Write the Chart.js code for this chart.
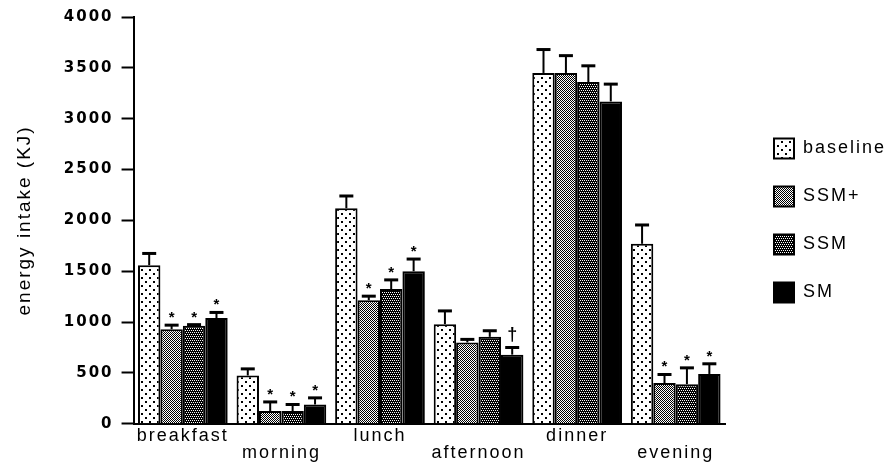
<!DOCTYPE html>
<html>
<head>
<meta charset="utf-8">
<script src="https://cdn.jsdelivr.net/npm/chart.js@4/dist/chart.umd.min.js"></script>
<style>
    html, body { margin: 0; padding: 0; background: #fff; }
    #wrap { width: 886px; height: 466px; }
</style>
</head>
<body>
<div id="wrap"><canvas id="graphEnergy" width="886" height="466"></canvas></div>
<script>
// meals, every other label pushed to a second line like in the figure
var categories = [['breakfast'], ['', 'morning'], ['lunch'], ['', 'afternoon'], ['dinner'], ['', 'evening']];
var seriesNames = ['baseline', 'SSM+', 'SSM', 'SM'];

// mean energy intake (KJ)
var baseline = [1560, 475, 2120, 980, 3450, 1770];
var ssmPlus  = [930, 125, 1215, 800, 3450, 400];
var ssm      = [965, 125, 1325, 855, 3360, 390];
var sm       = [1040, 190, 1500, 680, 3170, 490];

// SEM (upper bar only)
var baselineErr = [115, 65, 120, 130, 230, 185];
var ssmPlusErr  = [40, 90, 40, 30, 170, 85];
var ssmErr      = [10, 65, 90, 60, 160, 160];
var smErr       = [55, 65, 120, 70, 170, 100];

// significance marks
var baselineSig = ['', '', '', '', '', ''];
var ssmPlusSig  = ['*', '*', '*', '', '', '*'];
var ssmSig      = ['*', '*', '*', '', '', '*'];
var smSig       = ['*', '*', '*', '\u2020', '', '*'];

var yTicks = [0, 500, 1000, 1500, 2000, 2500, 3000, 3500, 4000];

var canvas = document.getElementById('graphEnergy');
var ctx = canvas.getContext('2d');

function makePattern(w, h, draw) {
    var c = document.createElement('canvas');
    c.width = w; c.height = h;
    var p = c.getContext('2d');
    p.fillStyle = '#fff';
    p.fillRect(0, 0, w, h);
    p.fillStyle = '#000';
    draw(p);
    return ctx.createPattern(c, 'repeat');
}

var dotted = makePattern(8, 8, function (p) {
    p.fillRect(1, 1, 2, 2);
    p.fillRect(5, 5, 2, 2);
});
var lightGrey = makePattern(2, 2, function (p) {
    p.fillRect(0, 0, 1, 1);
    p.fillRect(1, 1, 1, 1);
});
// 75% ordered dither
var darkGrey = makePattern(4, 4, function (p) {
    p.fillRect(0, 0, 4, 4);
    p.clearRect(0, 0, 1, 1);
    p.clearRect(2, 0, 1, 1);
    p.clearRect(1, 2, 1, 1);
    p.clearRect(3, 2, 1, 1);
});

var fills = [dotted, lightGrey, darkGrey, '#000'];
var values = [baseline, ssmPlus, ssm, sm];
var errors = [baselineErr, ssmPlusErr, ssmErr, smErr];
var marks = [baselineSig, ssmPlusSig, ssmSig, smSig];

var spacing = {
    id: 'spacing',
    beforeUpdate: function (chart) { chart.ctx.letterSpacing = '2px'; },
    beforeDraw: function (chart) { chart.ctx.letterSpacing = '2px'; }
};

var errorBars = {
    id: 'errorBars',
    afterDatasetsDraw: function (chart) {
        var c = chart.ctx;
        var y = chart.scales.y;
        c.save();
        c.strokeStyle = '#000';
        c.fillStyle = '#000';
        c.letterSpacing = '0px';
        chart.data.datasets.forEach(function (ds, i) {
            chart.getDatasetMeta(i).data.forEach(function (bar, j) {
                var top = y.getPixelForValue(values[i][j] + errors[i][j]);
                c.lineWidth = 2;
                c.beginPath();
                c.moveTo(bar.x, bar.y);
                c.lineTo(bar.x, top);
                c.stroke();
                c.lineWidth = 3;
                c.beginPath();
                c.moveTo(bar.x - 7, top);
                c.lineTo(bar.x + 7, top);
                c.stroke();
                var m = marks[i][j];
                if (m) {
                    c.textAlign = 'center';
                    c.textBaseline = 'alphabetic';
                    if (m === '*') {
                        c.font = 'bold 15px "Liberation Sans"';
                        c.fillText(m, bar.x, top - 3);
                    } else {
                        c.font = 'bold 18px "Liberation Sans"';
                        c.fillText(m, bar.x, top - 8);
                    }
                }
            });
        });
        c.restore();
    }
};

Chart.defaults.color = '#000';
Chart.defaults.font.family = '"Liberation Sans", Arial, sans-serif';

new Chart(ctx, {
    type: 'bar',
    data: {
        labels: categories,
        datasets: seriesNames.map(function (name, i) {
            return {
                label: name,
                data: values[i],
                backgroundColor: fills[i],
                borderColor: '#000',
                borderWidth: 2,
                borderSkipped: 'start',
                categoryPercentage: 0.91,
                barPercentage: 1.0
            };
        })
    },
    options: {
        responsive: false,
        animation: false,
        devicePixelRatio: 1,
        layout: {
            padding: { left: 8, top: 8, right: 0, bottom: 0 }
        },
        scales: {
            x: {
                grid: { display: false, drawTicks: false },
                border: { display: true, color: '#000', width: 2 },
                ticks: {
                    padding: 4,
                    maxRotation: 0,
                    autoSkip: false,
                    font: { size: 18, lineHeight: 0.95 }
                }
            },
            y: {
                min: 0,
                max: 4000,
                afterBuildTicks: function (axis) {
                    axis.ticks = yTicks.map(function (v) { return { value: v }; });
                },
                grid: {
                    drawOnChartArea: false,
                    drawTicks: true,
                    tickLength: 12,
                    tickWidth: 2,
                    tickColor: '#000'
                },
                border: { display: true, color: '#000', width: 2 },
                ticks: {
                    padding: 8,
                    callback: function (v) { return String(v); },
                    font: { family: '"DejaVu Sans"', size: 15, weight: 'bold' }
                },
                title: {
                    display: true,
                    text: 'energy intake (KJ)',
                    font: { size: 19 },
                    padding: { top: 5, bottom: 20 }
                }
            },
            gap: {
                type: 'linear',
                position: 'right',
                display: true,
                grid: { display: false, drawTicks: false },
                border: { display: false },
                ticks: { display: false },
                afterFit: function (axis) { axis.width = 21; }
            }
        },
        plugins: {
            legend: {
                position: 'right',
                fullSize: false,
                maxWidth: 140,
                labels: {
                    boxWidth: 20,
                    boxHeight: 20,
                    padding: 28,
                    font: { size: 18 }
                }
            },
            tooltip: { enabled: false }
        }
    },
    plugins: [spacing, errorBars]
});
</script>
</body>
</html>
